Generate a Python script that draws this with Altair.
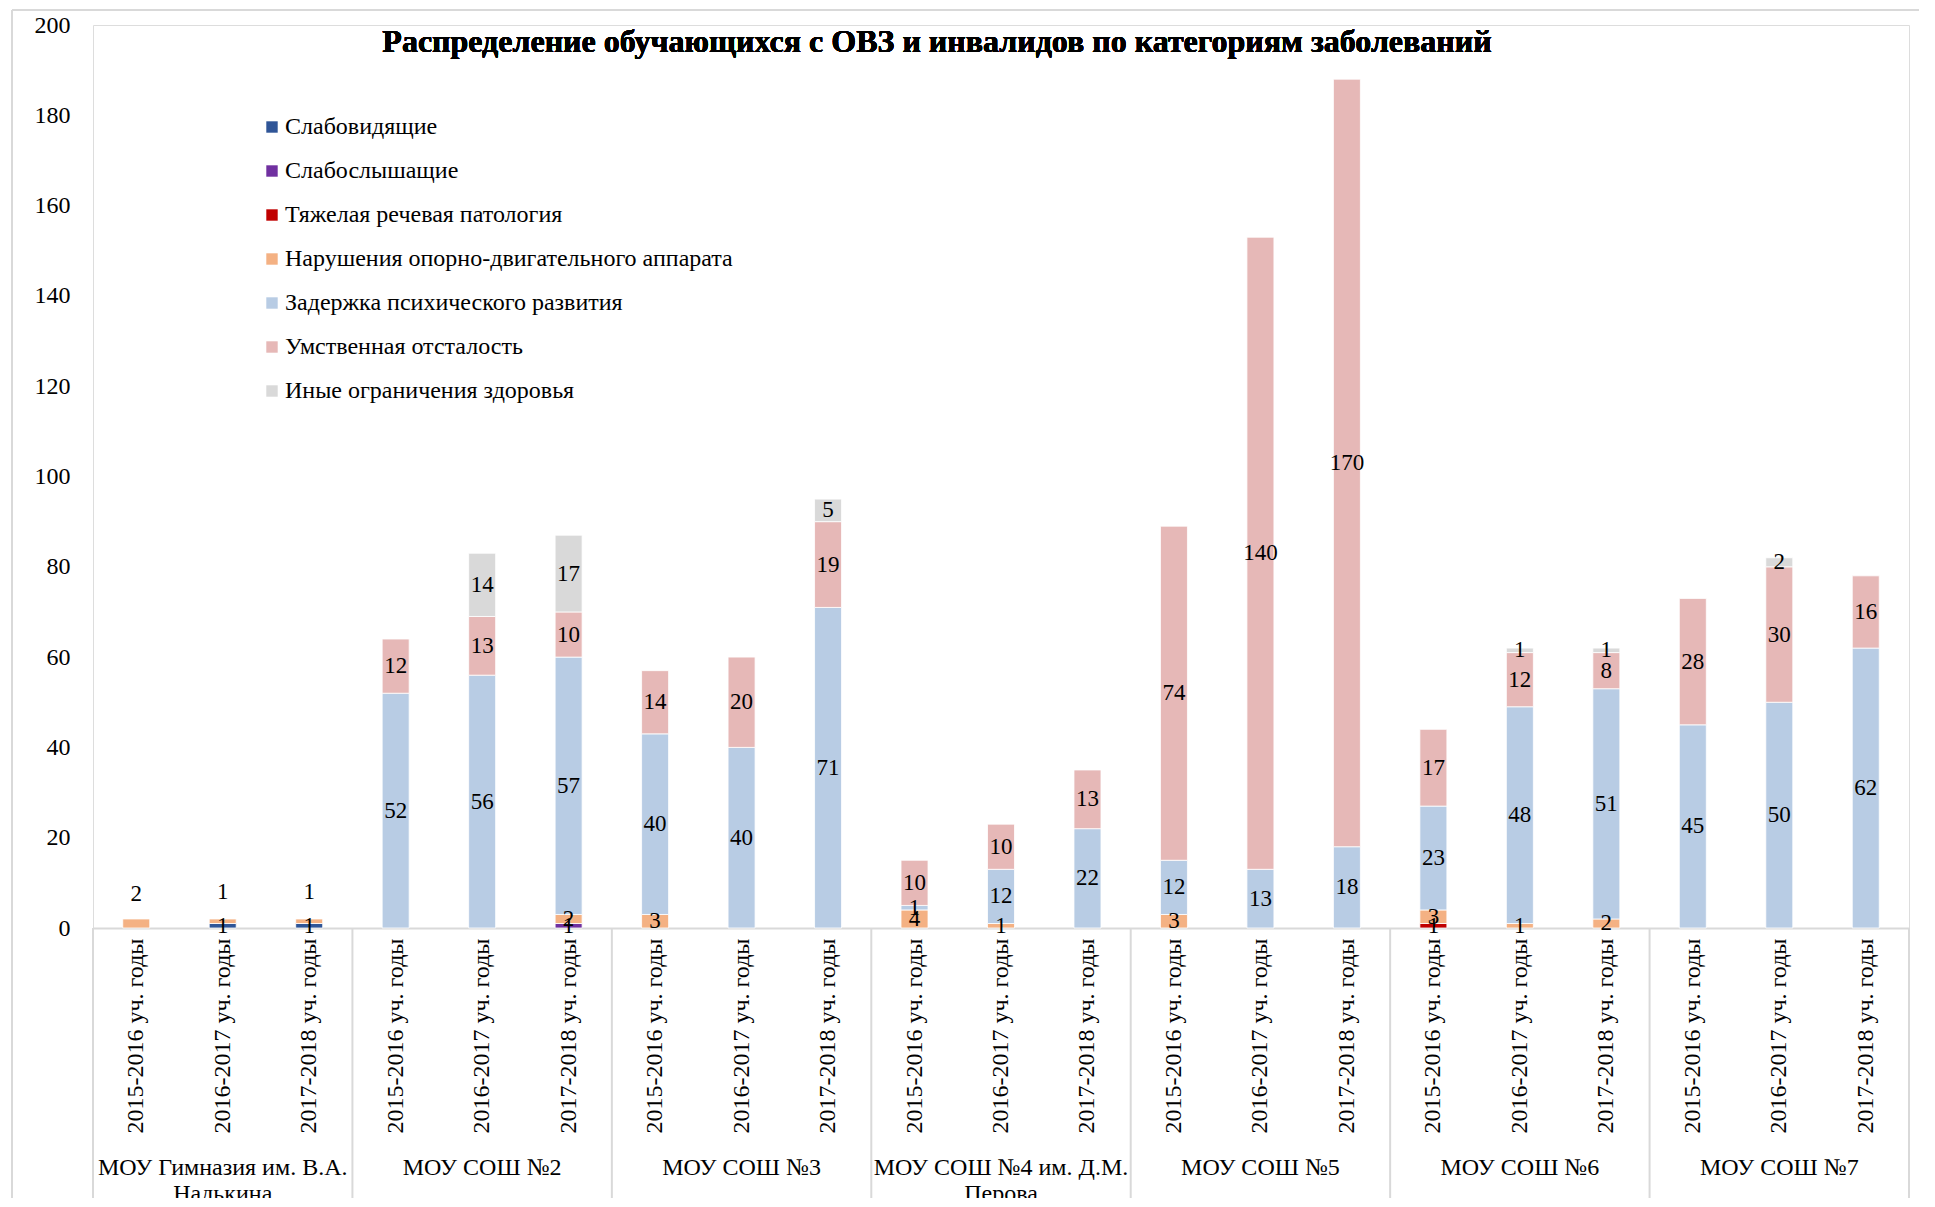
import altair as alt
import pandas as pd

schools = [
    "МОУ Гимназия им. В.А. Надькина",
    "МОУ СОШ №2",
    "МОУ СОШ №3",
    "МОУ СОШ №4 им. Д.М. Перова",
    "МОУ СОШ №5",
    "МОУ СОШ №6",
    "МОУ СОШ №7",
]
school_label_lines = [
    ["МОУ Гимназия им. В.А.", "Надькина"],
    ["МОУ СОШ №2"],
    ["МОУ СОШ №3"],
    ["МОУ СОШ №4 им. Д.М.", "Перова"],
    ["МОУ СОШ №5"],
    ["МОУ СОШ №6"],
    ["МОУ СОШ №7"],
]
years = ["2015-2016 уч. годы", "2016-2017 уч. годы", "2017-2018 уч. годы"]

categories = [
    "Слабовидящие",
    "Слабослышащие",
    "Тяжелая речевая патология",
    "Нарушения опорно-двигательного аппарата",
    "Задержка психического развития",
    "Умственная отсталость",
    "Иные ограничения здоровья",
]
colors = ["#2F5597", "#7030A0", "#C00000", "#F4B183", "#B8CCE4", "#E6B8B7", "#D9D9D9"]

# values per category, ordered school by school, year by year (7 x 3 = 21)
slabovid = [0, 1, 1, 0, 0, 0, 0, 0, 0, 0, 0, 0, 0, 0, 0, 0, 0, 0, 0, 0, 0]
slaboslysh = [0, 0, 0, 0, 0, 1, 0, 0, 0, 0, 0, 0, 0, 0, 0, 0, 0, 0, 0, 0, 0]
rech = [0, 0, 0, 0, 0, 0, 0, 0, 0, 0, 0, 0, 0, 0, 0, 1, 0, 0, 0, 0, 0]
noda = [2, 1, 1, 0, 0, 2, 3, 0, 0, 4, 1, 0, 3, 0, 0, 3, 1, 2, 0, 0, 0]
zpr = [0, 0, 0, 52, 56, 57, 40, 40, 71, 1, 12, 22, 12, 13, 18, 23, 48, 51, 45, 50, 62]
uo = [0, 0, 0, 12, 13, 10, 14, 20, 19, 10, 10, 13, 74, 140, 170, 17, 12, 8, 28, 30, 16]
inye = [0, 0, 0, 0, 14, 17, 0, 0, 5, 0, 0, 0, 0, 0, 0, 0, 1, 1, 0, 2, 0]
series = [slabovid, slaboslysh, rech, noda, zpr, uo, inye]

keys = [f"{s}|{y}" for s in schools for y in years]

rows = []
for ci, (cat, vals) in enumerate(zip(categories, series)):
    for ki, v in enumerate(vals):
        if v > 0:
            rows.append({
                "key": keys[ki],
                "school": schools[ki // 3],
                "category": cat,
                "order": ci,
                "value": v,
            })
df = pd.DataFrame(rows)

W, H = 1816, 903
FONT = "Liberation Serif"

x_enc = alt.X(
    "key:N",
    sort=keys,
    scale=alt.Scale(domain=keys, paddingInner=0, paddingOuter=0),
    axis=alt.Axis(
        title=None,
        labelExpr="split(datum.label, '|')[1]",
        labelAngle=-90,
        labelFont=FONT,
        labelFontSize=24,
        labelColor="#000000",
        labelPadding=10,
        ticks=False,
        domainColor="#D9D9D9",
        domainWidth=2,
        labelLimit=400,
    ),
)
y_scale = alt.Scale(domain=[0, 200], nice=False)

base = alt.Chart(df).transform_stack(
    stack="value",
    groupby=["key"],
    sort=[alt.SortField("order", order="ascending")],
    as_=["v0", "v1"],
).transform_calculate(mid="(datum.v0 + datum.v1) / 2")

bars = base.mark_bar(width=27, stroke="white", strokeWidth=0.8).encode(
    x=x_enc,
    y=alt.Y(
        "v0:Q",
        scale=y_scale,
        axis=alt.Axis(
            title=None,
            values=list(range(0, 201, 20)),
            labelFont=FONT,
            labelFontSize=24,
            labelColor="#000000",
            labelPadding=23,
            ticks=False,
            domain=False,
            grid=False,
        ),
    ),
    y2="v1:Q",
    color=alt.Color(
        "category:N",
        scale=alt.Scale(domain=categories, range=colors),
        legend=alt.Legend(
            title=None,
            orient="none",
            legendX=167,
            legendY=90,
            symbolType="square",
            symbolSize=130,
            symbolStrokeWidth=0,
            labelFont=FONT,
            labelFontSize=24,
            labelColor="#000000",
            labelOffset=1,
            rowPadding=20,
            padding=0,
            labelLimit=600,
        ),
    ),
)

is_gym_noda = f"datum.school == '{schools[0]}' && datum.order == 3"

labels = base.transform_filter(f"!({is_gym_noda})").mark_text(
    font=FONT, fontSize=23, color="#000000", baseline="middle", align="center"
).encode(x=alt.X("key:N", sort=keys), y=alt.Y("mid:Q", scale=y_scale), text="value:Q")

labels_top = base.transform_filter(is_gym_noda).mark_text(
    font=FONT, fontSize=23, color="#000000", baseline="middle", align="center", dy=-29
).encode(x=alt.X("key:N", sort=keys), y=alt.Y("mid:Q", scale=y_scale), text="value:Q")

# school group labels, centered under the middle year of each school
sdf = pd.DataFrame({
    "key": [f"{s}|{years[1]}" for s in schools],
    "label": ["\n".join(l) for l in school_label_lines],
})
school_text = alt.Chart(sdf).mark_text(
    font=FONT, fontSize=24, color="#000000", baseline="top", align="center",
    lineBreak="\n", lineHeight=26,
).encode(x=alt.X("key:N", sort=keys), y=alt.value(H + 228), text="label:N")

# separators between school groups
bdf_left = pd.DataFrame({"key": [f"{s}|{years[0]}" for s in schools]})
bdf_right = pd.DataFrame({"key": [f"{schools[-1]}|{years[2]}"]})
sep_left = alt.Chart(bdf_left).mark_rule(color="#D9D9D9", strokeWidth=2).encode(
    x=alt.X("key:N", sort=keys, bandPosition=0), y=alt.value(H), y2=alt.value(H + 300)
)
sep_right = alt.Chart(bdf_right).mark_rule(color="#D9D9D9", strokeWidth=2).encode(
    x=alt.X("key:N", sort=keys, bandPosition=1), y=alt.value(H), y2=alt.value(H + 300)
)

# outer chart frame
frame_top = alt.Chart(sdf).mark_rule(color="#D9D9D9", strokeWidth=2).encode(
    x=alt.value(-81), x2=alt.value(W + 40), y=alt.value(-15)
)
frame_left = alt.Chart(sdf).mark_rule(color="#D9D9D9", strokeWidth=2).encode(
    x=alt.value(-81), y=alt.value(-15), y2=alt.value(H + 300)
)

title = alt.Chart(sdf).mark_text(
    font=FONT, fontSize=32, fontWeight="bold", color="#000000", align="center", baseline="alphabetic"
).encode(
    x=alt.value(844), y=alt.value(27),
    text=alt.value("Распределение обучающихся с ОВЗ и инвалидов по категориям заболеваний"),
)

chart = alt.layer(
    frame_top, frame_left, bars, labels, labels_top, sep_left, sep_right, school_text, title
).properties(
    width=W,
    height=H,
    autosize=alt.AutoSizeParams(type="none"),
    padding={"left": 85, "top": 17, "right": 10, "bottom": 270},
).configure_view(stroke=None).configure(background="white")

chart.save("out.html", embed_options={"renderer": "svg", "actions": False})
